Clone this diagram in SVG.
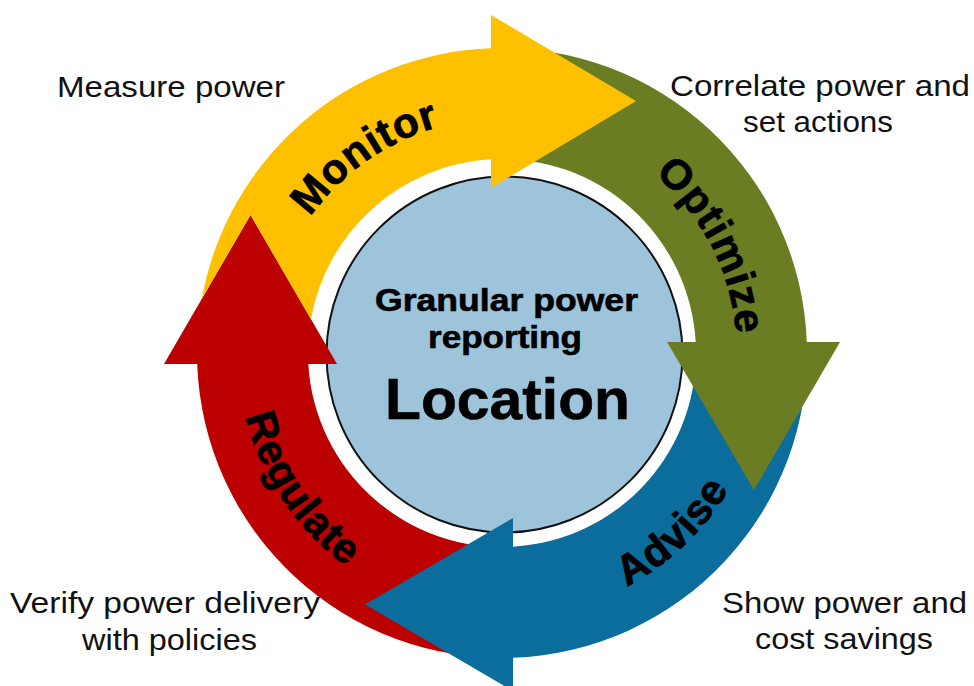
<svg xmlns="http://www.w3.org/2000/svg" width="974" height="686" viewBox="0 0 974 686">
<defs>
<style>
.lbl{font-family:"Liberation Sans",Arial,Helvetica,sans-serif;font-size:30px;fill:#111;}
.stage{font-family:"Liberation Sans",Arial,Helvetica,sans-serif;font-weight:bold;font-size:42px;fill:#000;stroke:#000;stroke-width:0.8px;letter-spacing:1px;}
.ctr{font-family:"Liberation Sans",Arial,Helvetica,sans-serif;font-weight:bold;fill:#000;stroke:#000;stroke-width:0.6px;}
.yellow{fill:#FFC000;}
.green{fill:#6B7D22;}
.blue{fill:#0B6D9C;}
.red{fill:#BC0000;}
</style>
<path id="p-monitor" d="M267.90,373.48 A235 235 0 0 1 601.32,140.02"/>
<path id="p-optimize" d="M514.30,118.32 A235 235 0 0 1 699.09,480.99"/>
<path id="p-advise" d="M426.23,606.77 A264 264 0 0 0 758.16,289.13"/>
<path id="p-regulate" d="M264.72,237.27 A264 264 0 0 0 520.42,616.36"/>
</defs>
<rect width="974" height="686" fill="#fff"/>

<g id="node-center">
<circle cx="504.5" cy="354.5" r="178" fill="#9DC4DA" stroke="#111" stroke-width="2"/>
<text class="ctr" x="375" y="311" font-size="31" textLength="263" lengthAdjust="spacingAndGlyphs">Granular power</text>
<text class="ctr" x="428" y="348" font-size="31" textLength="154" lengthAdjust="spacingAndGlyphs">reporting</text>
<text class="ctr" x="385" y="419" font-size="57" textLength="245" lengthAdjust="spacingAndGlyphs">Location</text>
</g>

<g id="node-regulate">
<path class="red" d="M513,657.80 A305 305 0 0 1 197.20,364 L308.31,364 A194 194 0 0 0 513,546.69 Z"/>
<polygon class="red" points="164,364 337,364 250.5,215"/>
<text class="stage"><textPath href="#p-regulate" startOffset="50%" text-anchor="middle">Regulate</textPath></text>
<text class="lbl" x="10" y="613" textLength="310" lengthAdjust="spacingAndGlyphs">Verify power delivery</text>
<text class="lbl" x="82" y="650" textLength="175" lengthAdjust="spacingAndGlyphs">with policies</text>
</g>

<g id="node-advise">
<path class="blue" d="M806.80,342 A305 305 0 0 1 513,657.80 L513,546.69 A194 194 0 0 0 695.69,342 Z"/>
<polygon class="blue" points="513,518 513,691 365,604.5"/>
<text class="stage"><textPath href="#p-advise" startOffset="50%" text-anchor="middle">Advise</textPath></text>
<text class="lbl" x="722" y="613" textLength="245" lengthAdjust="spacingAndGlyphs">Show power and</text>
<text class="lbl" x="755" y="649" textLength="178" lengthAdjust="spacingAndGlyphs">cost savings</text>
</g>

<g id="node-optimize">
<path class="green" d="M491,48.20 A305 305 0 0 1 806.80,342 L695.69,342 A194 194 0 0 0 491,159.31 Z"/>
<polygon class="green" points="667,342 840,342 754,490"/>
<text class="stage"><textPath href="#p-optimize" startOffset="50%" text-anchor="middle">Optimize</textPath></text>
<text class="lbl" x="670" y="96" textLength="300" lengthAdjust="spacingAndGlyphs">Correlate power and</text>
<text class="lbl" x="743" y="132" textLength="150" lengthAdjust="spacingAndGlyphs">set actions</text>
</g>

<g id="node-monitor">
<path class="yellow" d="M201.86,298.79 A305 305 0 0 1 491,48.20 L491,159.31 A194 194 0 0 0 310.97,319.17 L250.5,215 Z"/>
<polygon class="yellow" points="491,15 636,101 491,188"/>
<text class="stage"><textPath href="#p-monitor" startOffset="50%" text-anchor="middle">Monitor</textPath></text>
<text class="lbl" x="57" y="97" textLength="228" lengthAdjust="spacingAndGlyphs">Measure power</text>
</g>

<g id="connectors"></g>
</svg>
